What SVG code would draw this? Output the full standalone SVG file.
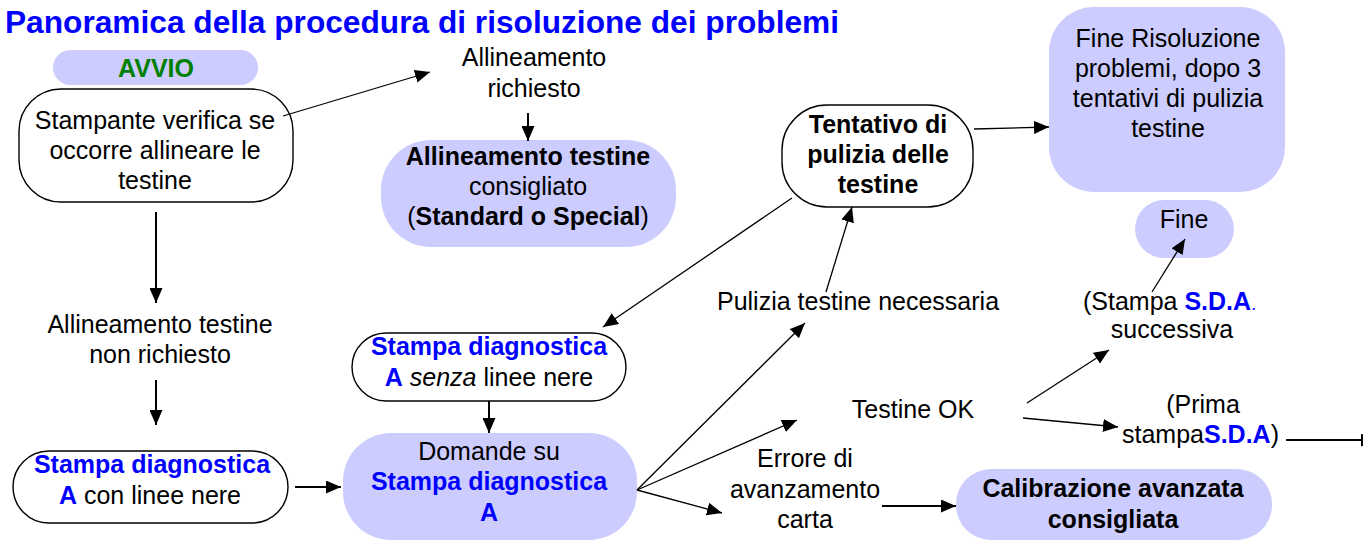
<svg xmlns="http://www.w3.org/2000/svg" width="1363" height="543" viewBox="0 0 1363 543">
<defs>
<style>
text{font-family:"Liberation Sans",Arial,sans-serif;font-size:25px;fill:#000}
.c{text-anchor:middle}
.b{font-weight:bold}
.bl{fill:#0000ff;font-weight:bold}
.w{fill:#fff;stroke:#000;stroke-width:1.4}
.l{fill:#ccccff}
.e line{stroke:#000;stroke-width:1.3}
.e line.t{stroke-width:2}
</style>
<marker id="ah" markerUnits="userSpaceOnUse" markerWidth="15" markerHeight="13" refX="15" refY="6.5" orient="auto" viewBox="0 0 15 13">
<path d="M0,0 L15,6.5 L0,13 z" fill="#000"/>
</marker>
</defs>
<rect width="1363" height="543" fill="#fff"/>
<text id="title" x="5" y="33" class="bl" style="font-size:31px" textLength="834" lengthAdjust="spacingAndGlyphs">Panoramica della procedura di risoluzione dei problemi</text>

<g id="avvio">
<rect class="l" x="53" y="50" width="205" height="35" rx="17.5"/>
<text class="c b" x="156" y="77" style="fill:#008000">AVVIO</text>
</g>
<g id="verifica">
<rect class="w" x="19" y="89" width="274" height="113" rx="42"/>
<text class="c" x="155" y="129">Stampante verifica se</text>
<text class="c" x="155" y="159">occorre allineare le</text>
<text class="c" x="155" y="189">testine</text>
</g>
<g id="richiesto">
<text class="c" x="534" y="66">Allineamento</text>
<text class="c" x="534" y="97">richiesto</text>
</g>
<g id="consigliato">
<rect class="l" x="381" y="140" width="295" height="107" rx="50"/>
<text class="c b" x="528" y="165">Allineamento testine</text>
<text class="c" x="528" y="195">consigliato</text>
<text class="c" x="528" y="225">(<tspan class="b">Standard o Special</tspan>)</text>
</g>
<g id="tentativo">
<rect class="w" x="782" y="105" width="191" height="102" rx="45"/>
<text class="c b" x="878" y="133">Tentativo di</text>
<text class="c b" x="878" y="163">pulizia delle</text>
<text class="c b" x="878" y="193">testine</text>
</g>
<g id="fine-risoluzione">
<rect class="l" x="1049" y="7" width="236" height="185" rx="45"/>
<text class="c" x="1168" y="47">Fine Risoluzione</text>
<text class="c" x="1168" y="77">problemi, dopo 3</text>
<text class="c" x="1168" y="107">tentativi di pulizia</text>
<text class="c" x="1168" y="137">testine</text>
</g>
<g id="fine">
<rect class="l" x="1135" y="200" width="99" height="58" rx="29"/>
<text class="c" x="1184" y="228">Fine</text>
</g>
<g id="pulizia">
<text class="c" x="858" y="310">Pulizia testine necessaria</text>
</g>
<g id="successiva">
<text x="1083" y="310">(Stampa <tspan class="bl">S.D.A</tspan><tspan style="fill:#0000ff;font-size:18px">.</tspan></text>
<text class="c" x="1172" y="338">successiva</text>
</g>
<g id="non-richiesto">
<text class="c" x="160" y="333">Allineamento testine</text>
<text class="c" x="160" y="363">non richiesto</text>
</g>
<g id="senza">
<rect class="w" x="352" y="333" width="274" height="68" rx="34"/>
<text class="c bl" x="489" y="355">Stampa diagnostica</text>
<text class="c" x="489" y="386"><tspan class="bl">A</tspan> <tspan font-style="italic">senza</tspan> linee nere</text>
</g>
<g id="con">
<rect class="w" x="13" y="451" width="275" height="72" rx="36"/>
<text class="c bl" x="152" y="473">Stampa diagnostica</text>
<text class="c" x="150" y="504"><tspan class="bl">A</tspan> con linee nere</text>
</g>
<g id="domande">
<rect class="l" x="343" y="433" width="294" height="107" rx="48"/>
<text class="c" x="489" y="460">Domande su</text>
<text class="c bl" x="489" y="490">Stampa diagnostica</text>
<text class="c bl" x="489" y="521">A</text>
</g>
<g id="testine-ok">
<text class="c" x="913" y="418">Testine OK</text>
</g>
<g id="errore">
<text class="c" x="805" y="467">Errore di</text>
<text class="c" x="805" y="498">avanzamento</text>
<text class="c" x="805" y="528">carta</text>
</g>
<g id="calibrazione">
<rect class="l" x="956" y="469" width="316" height="71" rx="35"/>
<text class="c b" x="1113" y="497">Calibrazione avanzata</text>
<text class="c b" x="1113" y="528">consigliata</text>
</g>
<g id="prima">
<text class="c" x="1203" y="413">(Prima</text>
<text x="1122" y="443">stampa<tspan class="bl">S.D.A</tspan>)</text>
</g>

<g id="connectors" class="e">
<line x1="283" y1="116" x2="430" y2="72" marker-end="url(#ah)"/>
<line class="t" x1="528" y1="113" x2="528" y2="141" marker-end="url(#ah)"/>
<line class="t" x1="156" y1="212" x2="156" y2="303" marker-end="url(#ah)"/>
<line class="t" x1="156" y1="380" x2="156" y2="425" marker-end="url(#ah)"/>
<line class="t" x1="295" y1="487" x2="341" y2="487" marker-end="url(#ah)"/>
<line class="t" x1="489" y1="401" x2="489" y2="433" marker-end="url(#ah)"/>
<line x1="792" y1="198" x2="603" y2="327" marker-end="url(#ah)"/>
<line x1="637" y1="490" x2="805" y2="323" marker-end="url(#ah)"/>
<line x1="637" y1="490" x2="797" y2="420" marker-end="url(#ah)"/>
<line x1="637" y1="490" x2="722" y2="513" marker-end="url(#ah)"/>
<line x1="826" y1="292" x2="852" y2="207" marker-end="url(#ah)"/>
<line x1="974" y1="129" x2="1049" y2="127" marker-end="url(#ah)"/>
<line class="t" x1="882" y1="506" x2="956" y2="506" marker-end="url(#ah)"/>
<line x1="1027" y1="403" x2="1109" y2="350" marker-end="url(#ah)"/>
<line x1="1023" y1="418" x2="1118" y2="427" marker-end="url(#ah)"/>
<line x1="1152" y1="292" x2="1185" y2="239" marker-end="url(#ah)"/>
<line class="t" x1="1286" y1="440" x2="1376" y2="440" marker-end="url(#ah)"/>
</g>
</svg>
